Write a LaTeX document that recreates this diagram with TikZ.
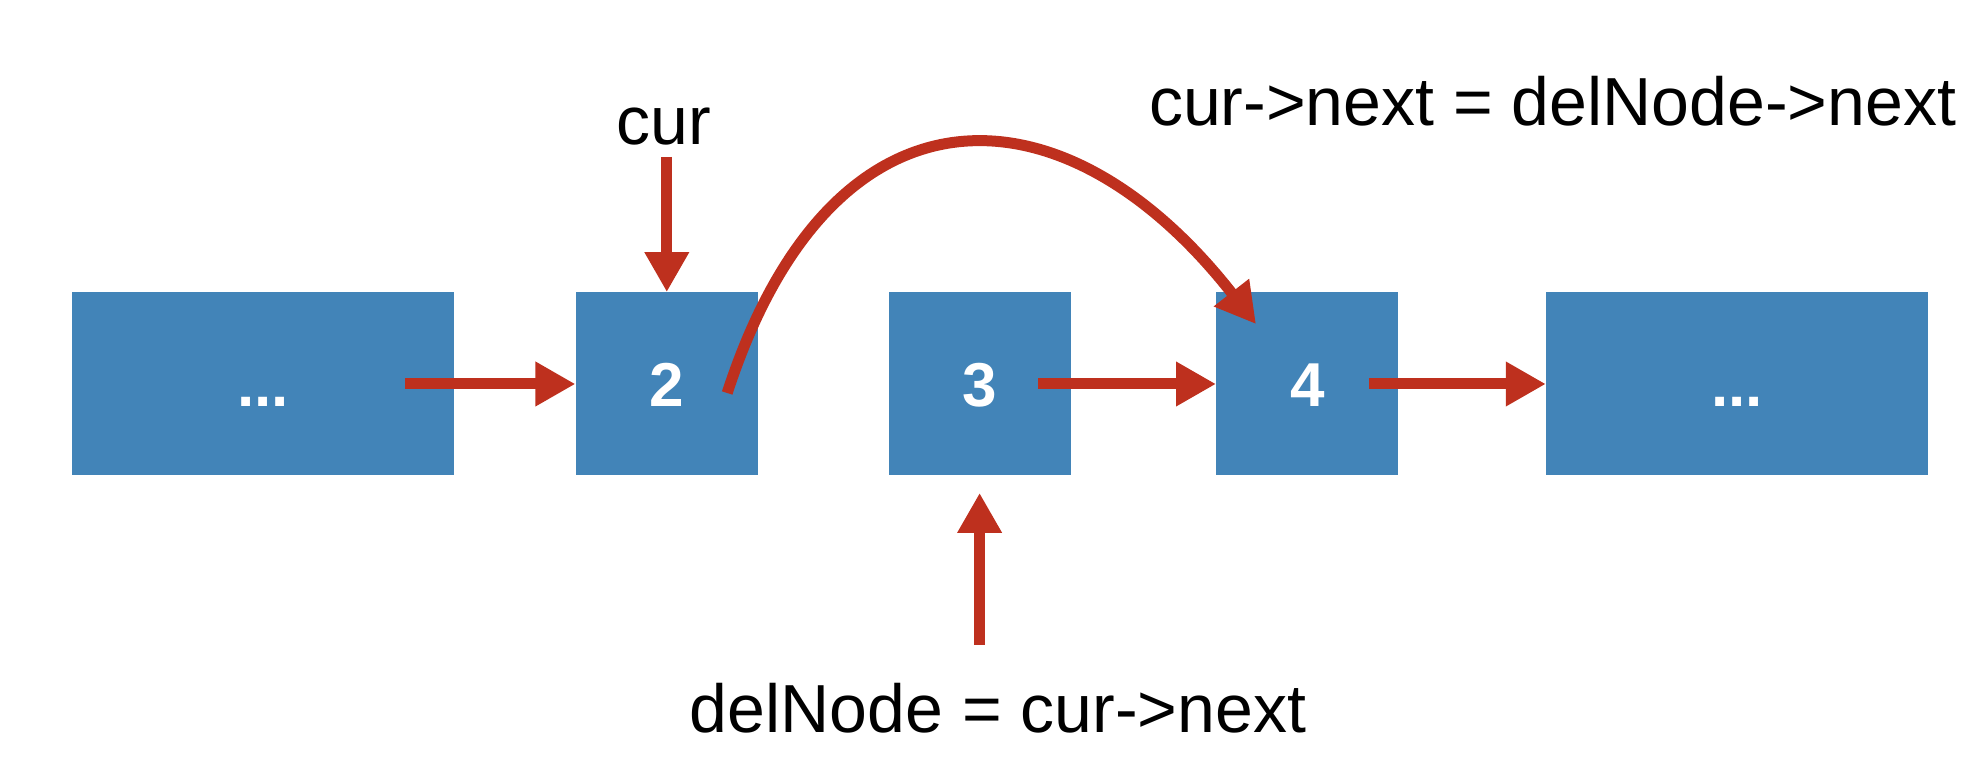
\documentclass[tikz,border=0pt]{standalone}
\usepackage{fontspec}
\setmainfont{Liberation Sans}
\usepackage{tikz}
\usetikzlibrary{arrows.meta,positioning,calc}
\definecolor{listblue}{RGB}{66,132,184}
\definecolor{ptrred}{RGB}{190,48,30}

\begin{document}
\begin{tikzpicture}[
  x=0.5pt, y=0.5pt,
  font=\fontsize{34}{40}\selectfont,
  cell/.style={fill=listblue,inner sep=0pt,minimum height=91.5pt,minimum width=91pt,
    text=white,font=\fontsize{31}{31}\selectfont\bfseries,text height=22.5pt,text depth=0pt},
  wide/.style={cell,minimum width=191pt},
  ptr/.style={draw=ptrred,line width=5.5pt,-{Triangle[length=20pt,width=21pt]}}]
\useasboundingbox (0,0) rectangle (1973,781);
% the list
\node[wide] (n1) at (263,397) {...};
\node[cell,right=60.5pt of n1] (n2) {2};
\node[cell,right=65pt of n2] (n3) {3};
\node[cell,right=72.5pt of n3] (n4) {4};
\node[wide,right=73.5pt of n4] (n5) {...};
% labels
\node[anchor=base] (cur) at (664,636) {cur};
\node[anchor=base] (del) at (998,49) {delNode = cur->next};
\node[anchor=base west] (rule) at (1142,655) {cur->next = delNode->next};
% links
\draw[ptr] ([xshift=-24.5pt]n1.east) -- (n2.west);
\draw[ptr] ([xshift=-16.5pt]n3.east) -- (n4.west);
\draw[ptr] ([xshift=-15pt]n4.east) -- (n5.west);
\draw[ptr] ([xshift=-15.5pt,yshift=-4.5pt]n2.east) .. controls +(72:340) and +(128:310) .. ([xshift=20pt,yshift=-16pt]n4.north west);
\draw[ptr] ($(n2.north |- cur.base)+(0,-12)$) -- (n2.north);
\draw[ptr] ($(n3.south |- del.base)+(0,87)$) -- ($(n3.south)+(0,-17)$);
\end{tikzpicture}
\end{document}
